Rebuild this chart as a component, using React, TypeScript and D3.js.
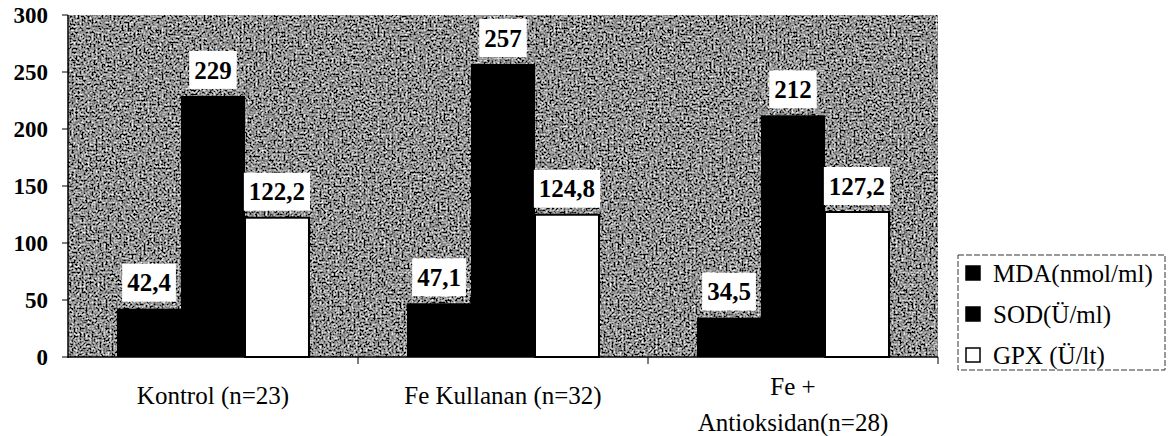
import * as d3 from "d3";
import { useEffect, useRef } from "react";

// groups on the x axis (a "\n" splits a label over two lines)
const categories = ["Kontrol (n=23)", "Fe Kullanan (n=32)", "Fe +\nAntioksidan(n=28)"];
const seriesNames = ["MDA(nmol/ml)", "SOD(Ü/ml)", "GPX (Ü/lt)"];
const mdaValues = [42.4, 47.1, 34.5];
const sodValues = [229, 257, 212];
const gpxValues = [122.2, 124.8, 127.2];
const yTicks = [0, 50, 100, 150, 200, 250, 300];

const W = 1173,
  H = 436;
const FONT = "Liberation Serif";
const left = 68,
  right = 938,
  top = 15,
  bottom = 357;

// measure label width with a canvas so the svg layout is not touched
const measure = (txt: string, font: string) => {
  const ctx = document.createElement("canvas").getContext("2d")!;
  ctx.font = font;
  return ctx.measureText(txt).width;
};

const App = () => {
  const svgRef = useRef<SVGSVGElement>(null);

  useEffect(() => {
    const svg = d3.select(svgRef.current);
    svg.selectAll("*").remove();

    const x0 = d3.scaleBand().domain(categories).range([left, right]).padding(0);
    const x1 = d3
      .scaleBand()
      .domain(seriesNames)
      .range([0, x0.bandwidth()])
      .paddingInner(0)
      .paddingOuter(0.766);
    const y = d3.scaleLinear().domain([0, 300]).range([bottom, top]);

    const fills = ["#000", "#000", "#fff"];
    const series = [mdaValues, sodValues, gpxValues];

    const addText = (x: number, yy: number, s: string, size: number, bold = false) =>
      svg
        .append("text")
        .attr("x", x)
        .attr("y", yy)
        .attr("dy", "0.35em")
        .attr("font-family", FONT)
        .style("font-family", FONT)
        .attr("font-weight", bold ? "bold" : "normal")
        .attr("font-size", size)
        .text(s);

    // grainy grey plot background (scanned look)
    const f = svg
      .append("defs")
      .append("filter")
      .attr("id", "grain")
      .attr("x", 0)
      .attr("y", 0)
      .attr("width", "100%")
      .attr("height", "100%");
    f.append("feTurbulence")
      .attr("type", "fractalNoise")
      .attr("baseFrequency", 0.5)
      .attr("numOctaves", 4)
      .attr("seed", 11);
    f.append("feColorMatrix")
      .attr("type", "matrix")
      .attr(
        "values",
        "0.33 0.33 0.33 0 0 0.33 0.33 0.33 0 0 0.33 0.33 0.33 0 0 0 0 0 0 1"
      );
    const ct = f.append("feComponentTransfer");
    ["feFuncR", "feFuncG", "feFuncB"].forEach((fn) =>
      ct.append(fn).attr("type", "linear").attr("slope", 3.4).attr("intercept", -1.4)
    );
    svg
      .append("rect")
      .attr("x", left)
      .attr("y", top)
      .attr("width", right - left)
      .attr("height", bottom - top)
      .attr("filter", "url(#grain)");

    // bars
    series.forEach((vals, si) => {
      svg
        .append("g")
        .selectAll("rect")
        .data(vals)
        .enter()
        .append("rect")
        .attr("x", (d, i) => x0(categories[i])! + x1(seriesNames[si])!)
        .attr("y", (d) => y(d))
        .attr("width", x1.bandwidth())
        .attr("height", (d) => y(0) - y(d))
        .attr("fill", fills[si])
        .attr("stroke", "#000")
        .attr("stroke-width", si === 2 ? 2 : 0);
    });

    // value labels with white boxes
    series.forEach((vals, si) => {
      vals.forEach((v, i) => {
        const cx = x0(categories[i])! + x1(seriesNames[si])! + x1.bandwidth() / 2;
        const txt = String(v).replace(".", ",");
        const w = measure(txt, "bold 25px 'Liberation Serif'") + 10;
        svg
          .append("rect")
          .attr("fill", "#fff")
          .attr("x", cx - w / 2)
          .attr("y", y(v) - 7 - 38)
          .attr("width", w)
          .attr("height", 38);
        addText(cx, y(v) - 7 - 19, txt, 25, true).attr("text-anchor", "middle");
      });
    });

    // axes
    svg
      .append("line")
      .attr("x1", left)
      .attr("x2", left)
      .attr("y1", top)
      .attr("y2", bottom + 1)
      .attr("stroke", "#000")
      .attr("stroke-width", 1.5);
    svg
      .append("line")
      .attr("x1", left)
      .attr("x2", right)
      .attr("y1", bottom)
      .attr("y2", bottom)
      .attr("stroke", "#000")
      .attr("stroke-width", 1.5);

    yTicks.forEach((d) => {
      svg
        .append("line")
        .attr("x1", left - 6)
        .attr("x2", left)
        .attr("y1", y(d))
        .attr("y2", y(d))
        .attr("stroke", "#000");
      addText(48, y(d), String(d), 23, true).attr("text-anchor", "end");
    });

    // category separators
    categories.forEach((c) => {
      const bx = x0(c)! + x0.bandwidth();
      svg
        .append("line")
        .attr("x1", bx)
        .attr("x2", bx)
        .attr("y1", bottom)
        .attr("y2", bottom + 7)
        .attr("stroke", "#000");
    });

    // category labels
    categories.forEach((c) => {
      const lines = c.split("\n");
      const cx = x0(c)! + x0.bandwidth() / 2;
      lines.forEach((l, li) => {
        addText(cx, lines.length === 1 ? 395 : 386 + li * 36, l, 25).attr(
          "text-anchor",
          "middle"
        );
      });
    });

    // legend
    svg
      .append("rect")
      .attr("x", 958)
      .attr("y", 255)
      .attr("width", 207)
      .attr("height", 115)
      .attr("fill", "#fff")
      .attr("stroke", "#333")
      .attr("stroke-width", 1)
      .attr("stroke-dasharray", "6,2");
    seriesNames.forEach((s, i) => {
      const cy = 273 + i * 41;
      svg
        .append("rect")
        .attr("x", 966)
        .attr("y", cy - 7)
        .attr("width", 14)
        .attr("height", 14)
        .attr("fill", fills[i])
        .attr("stroke", "#000")
        .attr("stroke-width", 1.5);
      addText(993, cy, s, 25);
    });
  }, []);

  return (
    <div style={{ position: "absolute", left: 0, top: 0, width: W, height: H }}>
      <svg ref={svgRef} width={W} height={H}></svg>
    </div>
  );
};

export default App;
